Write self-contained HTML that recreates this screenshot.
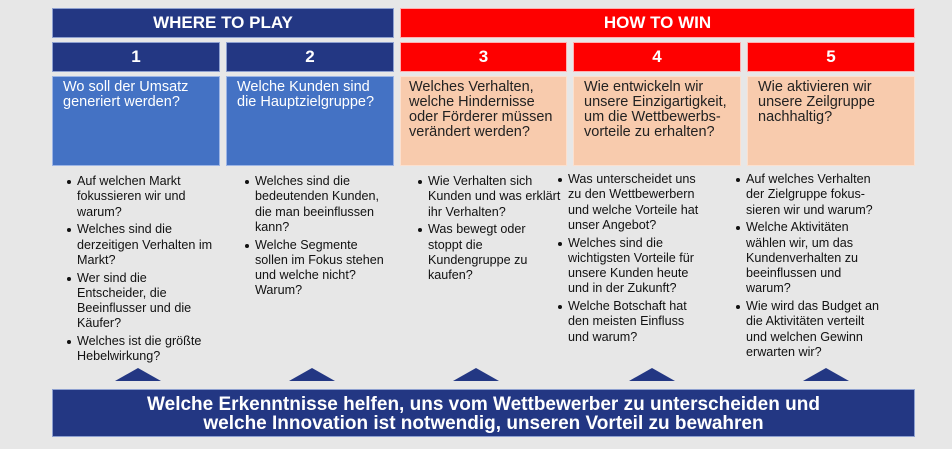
<!DOCTYPE html>
<html><head><meta charset="utf-8"><style>
body{margin:0;width:952px;height:449px;background:#e7e7e7;position:relative;overflow:hidden;font-family:"Liberation Sans",sans-serif}
.b{position:absolute;box-sizing:border-box}
.h{color:#fff;font-weight:bold;text-align:center}
.navy{background:#233783;border:1px solid #8ea0d0}
.red{background:#fe0000;border:1px solid #ffb0b0}
.q{font-size:14.5px;line-height:15px;padding:3px 0 0 10px}
.blue{background:#4472c4;color:#fff;border:1px solid #9db5e5}
.peach{background:#f8cbad;color:#222;border:1px solid #fbe0cf}
.l{position:absolute;font-size:12.6px;line-height:15.3px;color:#111}
.l div{position:relative;padding-left:9px;margin-bottom:2.4px}
.l div:before{content:"";position:absolute;left:-1px;top:6px;width:4px;height:4px;border-radius:50%;background:#111}
.t{position:absolute;width:0;height:0;border-left:23px solid transparent;border-right:23px solid transparent;border-bottom:13px solid #233783}
</style></head><body>
<div class="b h navy" style="left:52px;top:8px;width:342px;height:30px;font-size:17px;line-height:28px">WHERE TO PLAY</div>
<div class="b h red" style="left:400px;top:8px;width:515px;height:30px;font-size:17px;line-height:28px">HOW TO WIN</div>
<div class="b h navy" style="left:52px;top:42px;width:168px;height:30px;font-size:17px;line-height:28px">1</div>
<div class="b h navy" style="left:226px;top:42px;width:168px;height:30px;font-size:17px;line-height:28px">2</div>
<div class="b h red" style="left:400px;top:42px;width:167px;height:30px;font-size:17px;line-height:28px">3</div>
<div class="b h red" style="left:573px;top:42px;width:168px;height:30px;font-size:17px;line-height:28px">4</div>
<div class="b h red" style="left:747px;top:42px;width:168px;height:30px;font-size:17px;line-height:28px">5</div>
<div class="b q blue" style="left:52px;top:76px;width:168px;height:90px">Wo soll der Umsatz<br>generiert werden?</div>
<div class="b q blue" style="left:226px;top:76px;width:168px;height:90px">Welche Kunden sind<br>die Hauptzielgruppe?</div>
<div class="b q peach" style="left:400px;top:76px;width:167px;height:90px;padding-left:8px">Welches Verhalten,<br>welche Hindernisse<br>oder Förderer müssen<br>verändert werden?</div>
<div class="b q peach" style="left:573px;top:76px;width:168px;height:90px">Wie entwickeln wir<br>unsere Einzigartigkeit,<br>um die Wettbewerbs-<br>vorteile zu erhalten?</div>
<div class="b q peach" style="left:747px;top:76px;width:168px;height:90px">Wie aktivieren wir<br>unsere Zeilgruppe<br>nachhaltig?</div>

<div class="l" style="left:68px;top:174px"><div>Auf welchen Markt<br>fokussieren wir und<br>warum?</div><div>Welches sind die<br>derzeitigen Verhalten im<br>Markt?</div><div>Wer sind die<br>Entscheider, die<br>Beeinflusser und die<br>Käufer?</div><div>Welches ist die größte<br>Hebelwirkung?</div></div>
<div class="l" style="left:246px;top:174px"><div>Welches sind die<br>bedeutenden Kunden,<br>die man beeinflussen<br>kann?</div><div>Welche Segmente<br>sollen im Fokus stehen<br>und welche nicht?<br>Warum?</div></div>
<div class="l" style="left:419px;top:174px"><div>Wie Verhalten sich<br>Kunden und was erklärt<br>ihr Verhalten?</div><div>Was bewegt oder<br>stoppt die<br>Kundengruppe zu<br>kaufen?</div></div>
<div class="l" style="left:559px;top:172px"><div>Was unterscheidet uns<br>zu den Wettbewerbern<br>und welche Vorteile hat<br>unser Angebot?</div><div>Welches sind die<br>wichtigsten Vorteile für<br>unsere Kunden heute<br>und in der Zukunft?</div><div>Welche Botschaft hat<br>den meisten Einfluss<br>und warum?</div></div>
<div class="l" style="left:737px;top:172px"><div>Auf welches Verhalten<br>der Zielgruppe fokus-<br>sieren wir und warum?</div><div>Welche Aktivitäten<br>wählen wir, um das<br>Kundenverhalten zu<br>beeinflussen und<br>warum?</div><div>Wie wird das Budget an<br>die Aktivitäten verteilt<br>und welchen Gewinn<br>erwarten wir?</div></div>

<div class="t" style="left:115px;top:368px"></div>
<div class="t" style="left:289px;top:368px"></div>
<div class="t" style="left:453px;top:368px"></div>
<div class="t" style="left:629px;top:368px"></div>
<div class="t" style="left:803px;top:368px"></div>

<div class="b h navy" style="left:52px;top:389px;width:863px;height:48px;font-family:'Liberation Sans Narrow','Liberation Sans',sans-serif;font-size:19px;line-height:19px;padding-top:5px">Welche Erkenntnisse helfen, uns vom Wettbewerber zu unterscheiden und<br>welche Innovation ist notwendig, unseren Vorteil zu bewahren</div>
</body></html>
